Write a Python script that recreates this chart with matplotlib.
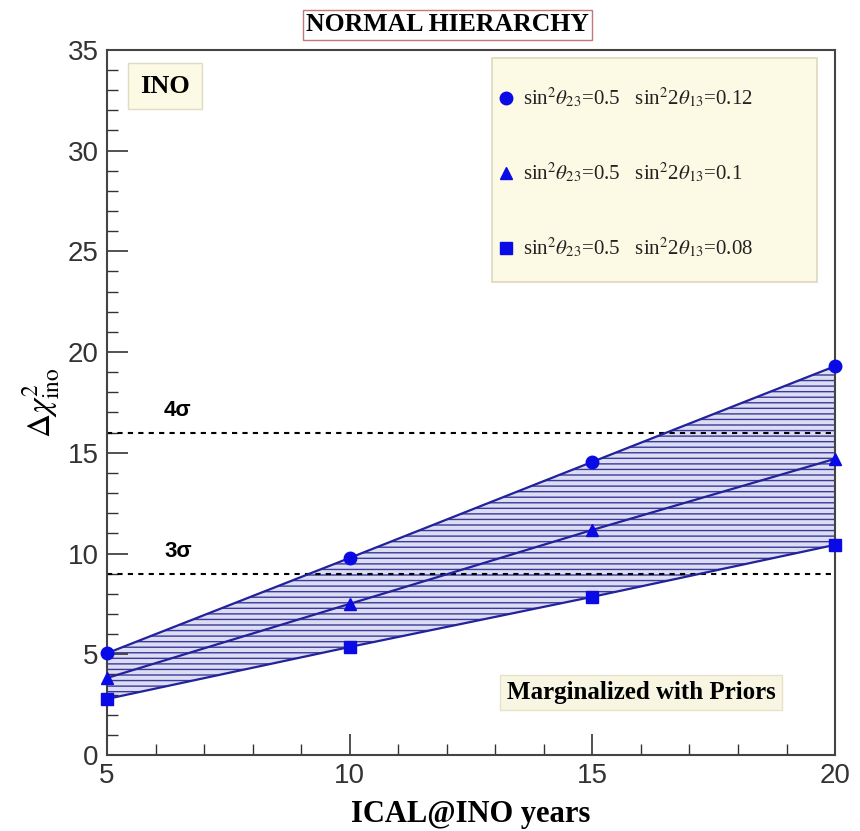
import matplotlib
matplotlib.use('Agg')
from matplotlib import pyplot as plt
from matplotlib.lines import Line2D
from matplotlib.patches import Rectangle
from matplotlib.ticker import MultipleLocator

plt.rcParams['mathtext.fontset'] = 'stix'
plt.rcParams['hatch.color'] = '#3a3a9a'
plt.rcParams['hatch.linewidth'] = 1.0

# values
years = [5, 10, 15, 20]
chi2_012 = [5.05, 9.78, 14.55, 19.3]
chi2_010 = [3.82, 7.5, 11.17, 14.7]
chi2_008 = [2.78, 5.36, 7.85, 10.43]
sigma_levels = [9, 16]
sigma_labels = ['3σ', '4σ']
labels = [r'sin$^2\theta_{23}$=0.5   sin$^2$2$\theta_{13}$=0.12',
          r'sin$^2\theta_{23}$=0.5   sin$^2$2$\theta_{13}$=0.1',
          r'sin$^2\theta_{23}$=0.5   sin$^2$2$\theta_{13}$=0.08']

serif = 'Liberation Serif'
sans = 'Liberation Sans'
line_col = '#22229a'
mark_col = '#0a0ae6'

fig = plt.figure(figsize=(8.6, 8.31), dpi=100)
ax = fig.add_axes([0.1244, 0.0915, 0.8466, 0.8485])

# shaded band between the highest and lowest theta13 curves
ax.fill_between(years, chi2_008, chi2_012, facecolor='#dcdcf2', edgecolor='none',
                hatch='---', zorder=1)

for y, m in [(chi2_012, 'o'), (chi2_010, '^'), (chi2_008, 's')]:
    ax.plot(years, y, color=line_col, lw=1.6, zorder=3)
    ax.plot(years, y, ls='none', marker=m, color=mark_col, ms=9, zorder=4, clip_on=False)

for lev, lab in zip(sigma_levels, sigma_labels):
    ax.axhline(lev, color='black', lw=1.5, ls=(0, (2.5, 2.5)), zorder=2)
    ax.text(6.46, lev + 1.1, lab, fontsize=16, fontweight='bold', family=sans,
            ha='center', va='center')

ax.set_xlim(5, 20)
ax.set_ylim(0, 35)
ax.xaxis.set_major_locator(MultipleLocator(5))
ax.xaxis.set_minor_locator(MultipleLocator(1))
ax.yaxis.set_major_locator(MultipleLocator(5))
ax.yaxis.set_minor_locator(MultipleLocator(1))
ax.tick_params(which='both', direction='in', top=False, right=False, color='#333333')
ax.tick_params(which='major', length=15, width=1.2, labelsize=20, pad=6)
ax.tick_params(which='minor', length=8, width=1.0)
for lbl in ax.get_xticklabels() + ax.get_yticklabels():
    lbl.set_family(sans)
    lbl.set_color('#333333')
for s in ax.spines.values():
    s.set_linewidth(1.5)
    s.set_color('#444444')

ax.set_xlabel('ICAL@INO years', fontsize=22, fontweight='bold', family=serif, labelpad=8)
ax.set_ylabel(r'$\Delta\chi^2_{\mathrm{ino}}$', fontsize=24, labelpad=4)

# legend box drawn separately so the padding matches
ax.add_patch(Rectangle((0.529, 0.671), 0.446, 0.318, transform=ax.transAxes,
                       fc='#fcf9e4', ec='#ddd8c0', lw=1.2, zorder=5))
handles = [Line2D([], [], ls='none', marker=m, color=mark_col, ms=9) for m in ['o', '^', 's']]
leg = ax.legend(handles, labels, loc='upper left', bbox_to_anchor=(0.537, 0.949),
                frameon=False, labelspacing=2.45, handlelength=0.8, handletextpad=0.4,
                borderpad=0, borderaxespad=0, prop={'family': serif, 'size': 15})
leg.set_zorder(6)
for t in leg.get_texts():
    t.set_color('#222222')

ax.text(6.2, 33.2, 'INO', fontsize=19, fontweight='bold', family=serif, ha='center',
        va='center', bbox=dict(boxstyle='square,pad=0.45', fc='#fcf9e4', ec='#e0dcc4'))
ax.text(16.0, 3.1, 'Marginalized with Priors', fontsize=18, fontweight='bold', family=serif,
        ha='center', va='center', bbox=dict(boxstyle='square,pad=0.25', fc='#f8f6e2', ec='#e6e2c8'))
fig.text(0.52, 0.970, 'NORMAL HIERARCHY', fontsize=18.5, fontweight='bold', family=serif,
         ha='center', va='center', bbox=dict(boxstyle='square,pad=0.12', fc='white', ec='#c07878'))

plt.savefig('out.png')
plt.close()
